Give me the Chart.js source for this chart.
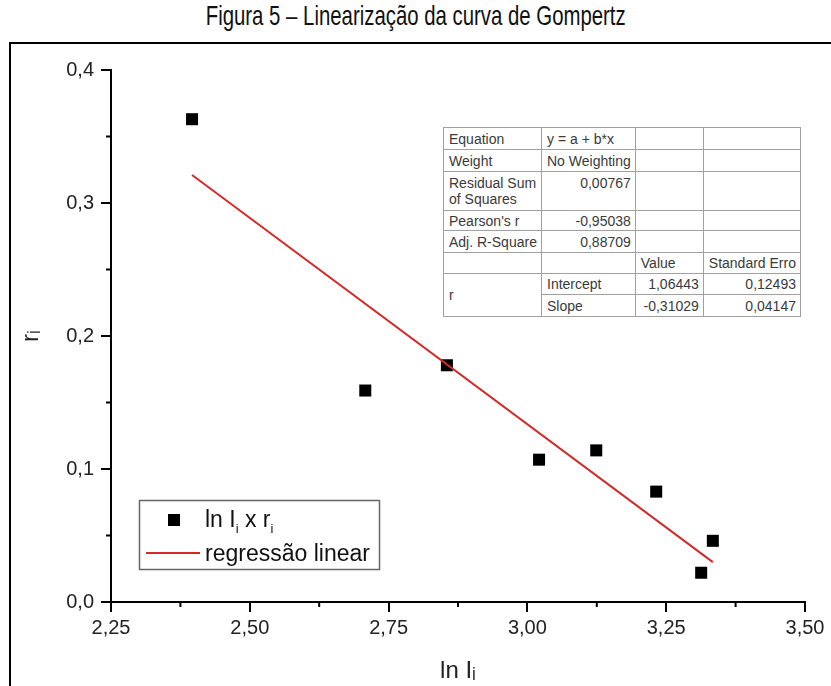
<!DOCTYPE html>
<html><head><meta charset="utf-8">
<script src="https://cdn.jsdelivr.net/npm/chart.js@4.4.1/dist/chart.umd.min.js"></script>
<style>
html,body{margin:0;padding:0;background:#fff;}
#wrap{position:relative;width:831px;height:686px;overflow:hidden;background:#fff;}
#frame{position:absolute;left:9px;top:42px;width:900px;height:700px;border-left:2px solid #000;border-top:2px solid #000;}
#title{position:absolute;left:0;top:0px;width:831px;text-align:center;font-family:"Liberation Sans Narrow","Arial Narrow","Liberation Sans",Arial,sans-serif;font-size:28px;color:#111;white-space:nowrap;line-height:32px;}
#title span{display:inline-block;transform-origin:center;}
canvas{position:absolute;left:0;top:0;}
#stats{position:absolute;left:443px;top:127px;border-collapse:collapse;font-family:"Liberation Sans",Arial,sans-serif;font-size:14px;color:#3a3a3a;background:#fff;table-layout:fixed;}
#stats td{border:1px solid #a0a0a0;padding:0 4px 0 5px;white-space:nowrap;overflow:hidden;line-height:16px;vertical-align:middle;}
#stats td.r{text-align:right;}
#stats td.top{vertical-align:top;padding-top:3px;}
</style>
</head>
<body>
<div id="wrap">
  <div id="frame"></div>
  <div id="title"><span id="tspan">Figura 5 – Linearização da curva de Gompertz</span></div>
  <canvas id="c" width="831" height="686"></canvas>
  <table id="stats"></table>
</div>
<script>
// ---- data ----
const lnI   = [2.396, 2.708, 2.855, 3.021, 3.124, 3.232, 3.313, 3.334];
const rVals = [0.363, 0.159, 0.178, 0.107, 0.114, 0.083, 0.022, 0.046];
const regX  = [2.396, 3.334];
const regY  = [0.321, 0.030];
const xTicks = [2.25, 2.50, 2.75, 3.00, 3.25, 3.50];
const xTickLabels = ['2,25', '2,50', '2,75', '3,00', '3,25', '3,50'];
const yTicks = [0.0, 0.1, 0.2, 0.3, 0.4];
const yTickLabels = ['0,0', '0,1', '0,2', '0,3', '0,4'];
const xMinor = [2.375, 2.625, 2.875, 3.125, 3.375];
const yMinor = [0.05, 0.15, 0.25, 0.35];
const seriesNames = ['ln I x r', 'regressão linear'];
const statNames  = ['Equation', 'Weight', 'Residual Sum<br>of Squares', "Pearson's r", 'Adj. R-Square'];
const statValues = ['y = a + b*x', 'No Weighting', '0,00767', '-0,95038', '0,88709'];
const paramHeaders = ['Value', 'Standard Erro'];
const paramNames = ['Intercept', 'Slope'];
const paramValues = ['1,06443', '-0,31029'];
const paramErrors = ['0,12493', '0,04147'];

// ---- title fit ----
(function(){
  const s = document.getElementById('tspan');
  const w = s.getBoundingClientRect().width;
  s.style.transform = 'scaleX(' + (420 / w) + ')';
})();

// ---- stats table ----
(function(){
  const t = document.getElementById('stats');
  const rowH = [22, 22, 39, 20, 22];
  let h = '<colgroup><col style="width:98px"><col style="width:90px"><col style="width:68px"><col style="width:96px"></colgroup>';
  statNames.forEach((n, i) => {
    const alignR = i >= 2;
    const topc = i === 2 ? ' top' : '';
    h += '<tr style="height:' + rowH[i] + 'px"><td class="' + topc + '">' + n + '</td><td class="' + (alignR ? 'r' : '') + topc + '">' + statValues[i] + '</td><td></td><td></td></tr>';
  });
  h += '<tr style="height:21px"><td></td><td></td><td>' + paramHeaders[0] + '</td><td>' + paramHeaders[1] + '</td></tr>';
  paramNames.forEach((n, i) => {
    h += '<tr style="height:' + (i === 0 ? 21 : 22) + 'px">' + (i === 0 ? '<td rowspan="2">r</td>' : '') +
      '<td>' + n + '</td><td class="r">' + paramValues[i] + '</td><td class="r">' + paramErrors[i] + '</td></tr>';
  });
  t.innerHTML = h;
})();

const FONT = '"Liberation Sans", Arial, sans-serif';

function drawRich(ctx, parts, x, y, size) {
  let cx = x;
  parts.forEach(p => {
    if (p.sub) {
      ctx.font = Math.round(size * 0.55) + 'px ' + FONT;
      ctx.fillText(p.t, cx, y + size * 0.25);
    } else {
      ctx.font = size + 'px ' + FONT;
      ctx.fillText(p.t, cx, y);
    }
    cx += ctx.measureText(p.t).width;
  });
}

const extrasPlugin = {
  id: 'extras',
  afterDraw(chart) {
    const ctx = chart.ctx;
    const xs = chart.scales.x, ys = chart.scales.y;
    ctx.save();
    // minor ticks
    ctx.strokeStyle = '#000';
    ctx.lineWidth = 2;
    ctx.beginPath();
    xMinor.forEach(v => {
      const px = xs.getPixelForValue(v);
      ctx.moveTo(px, ys.bottom); ctx.lineTo(px, ys.bottom + 5);
    });
    yMinor.forEach(v => {
      const py = ys.getPixelForValue(v);
      ctx.moveTo(xs.left, py); ctx.lineTo(xs.left - 5, py);
    });
    ctx.stroke();

    // legend box
    const bx = 139.5, by = 500.5, bw = 240, bh = 69;
    ctx.fillStyle = '#fff';
    ctx.fillRect(bx, by, bw, bh);
    ctx.strokeStyle = '#666';
    ctx.lineWidth = 1.5;
    ctx.strokeRect(bx, by, bw, bh);
    const ds0 = chart.data.datasets[0], ds1 = chart.data.datasets[1];
    ctx.fillStyle = ds0.backgroundColor;
    ctx.fillRect(168, 514, 12, 12);
    ctx.strokeStyle = ds1.borderColor;
    ctx.lineWidth = ds1.borderWidth;
    ctx.beginPath(); ctx.moveTo(146, 553); ctx.lineTo(200, 553); ctx.stroke();
    ctx.fillStyle = '#111';
    ctx.textBaseline = 'alphabetic';
    ctx.textAlign = 'left';
    drawRich(ctx, [{t: 'ln I'}, {t: 'i', sub: true}, {t: ' x r'}, {t: 'i', sub: true}], 205, 527, 23);
    drawRich(ctx, [{t: seriesNames[1]}], 205, 561, 23);
    ctx.restore();
  }
};

new Chart(document.getElementById('c'), {
  data: {
    datasets: [
      {
        type: 'scatter',
        label: seriesNames[0],
        data: lnI.map((x, i) => ({x: x, y: rVals[i]})),
        pointStyle: 'rect',
        pointRadius: 8.5,
        pointHoverRadius: 8.5,
        backgroundColor: '#000',
        borderColor: '#000',
        borderWidth: 0,
        order: 1
      },
      {
        type: 'line',
        label: seriesNames[1],
        data: regX.map((x, i) => ({x: x, y: regY[i]})),
        borderColor: '#d42a2a',
        borderWidth: 2,
        pointRadius: 0,
        fill: false,
        order: 0
      }
    ]
  },
  options: {
    responsive: false,
    animation: false,
    layout: {padding: {left: 10, top: 70, right: 26, bottom: 0}},
    plugins: {legend: {display: false}, tooltip: {enabled: false}},
    scales: {
      x: {
        type: 'linear',
        min: 2.25, max: 3.5,
        afterBuildTicks: s => { s.ticks = xTicks.map(v => ({value: v})); },
        afterFit: s => { s.height = 84; },
        ticks: {
          callback: (v, i) => xTickLabels[i],
          font: {size: 20, family: FONT},
          color: '#222',
          padding: 4,
          maxRotation: 0,
          autoSkip: false
        },
        grid: {drawOnChartArea: false, drawTicks: true, tickLength: 10, color: '#000', lineWidth: 2},
        border: {display: true, color: '#000', width: 2},
        title: {display: true, text: 'ln Iᵢ', font: {size: 24, family: FONT}, color: '#222', padding: {top: 8, bottom: 0}}
      },
      y: {
        type: 'linear',
        min: 0, max: 0.4,
        afterBuildTicks: s => { s.ticks = yTicks.map(v => ({value: v})); },
        afterFit: s => { s.width = 101; },
        ticks: {
          callback: (v, i) => yTickLabels[i],
          font: {size: 20, family: FONT},
          color: '#222',
          padding: 7,
          autoSkip: false
        },
        grid: {drawOnChartArea: false, drawTicks: true, tickLength: 10, color: '#000', lineWidth: 2},
        border: {display: true, color: '#000', width: 2},
        title: {display: true, text: 'rᵢ', font: {size: 24, family: FONT}, color: '#222', padding: {top: 7, bottom: 0}}
      }
    }
  },
  plugins: [extrasPlugin]
});
</script>
</body></html>
